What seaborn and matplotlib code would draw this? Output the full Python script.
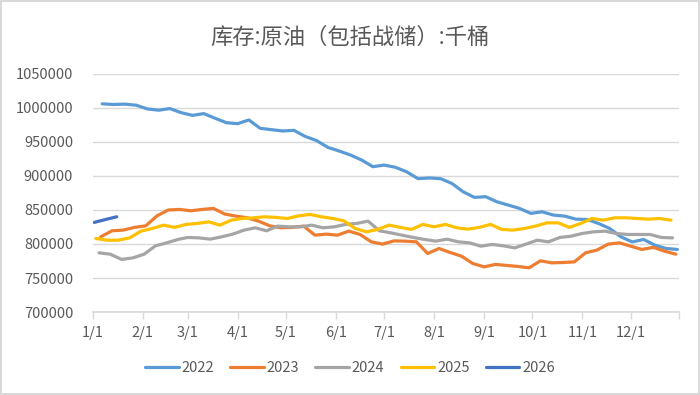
import pandas as pd
import matplotlib
matplotlib.use("Agg")
import matplotlib.pyplot as plt
import seaborn as sns

# 每周数据（千桶），按年份分开
v2022 = [1006000, 1005000, 1005500, 1004000, 998500, 996600, 999000, 993000, 989000, 991600,
         984800, 978300, 976800, 982300, 970000, 968000, 966100, 967000, 958000, 952000,
         942000, 936700, 930800, 923400, 913600, 916000, 912700, 906000, 896000, 897000,
         896000, 889000, 876800, 868500, 869500, 862000, 857200, 852300, 845000, 847300,
         842500, 841000, 836500, 836000, 830200, 822800, 810500, 803000, 806700, 798300,
         793400, 792000]
v2023 = [810500, 819400, 820400, 824400, 826700, 841400, 850000, 850800, 848800, 850800,
         852300, 844000, 841000, 838500, 833600, 826700, 823800, 824400, 826300, 813000,
         814500, 813000, 818900, 814000, 803200, 799800, 804600, 804200, 803200, 786000,
         793400, 787500, 782100, 771300, 766400, 770000, 768500, 767000, 765000, 775300,
         772300, 772800, 773700, 787000, 791000, 799800, 801700, 796800, 792000, 795000,
         789500, 785000]
v2024 = [787000, 785000, 777300, 779600, 785000, 797300, 801700, 806700, 809600, 809000,
         807100, 810500, 814500, 820400, 823800, 819400, 826300, 825200, 825200, 827700,
         823800, 825200, 828800, 830200, 833600, 819400, 816400, 813000, 809600, 806700,
         804200, 807100, 803200, 801700, 796800, 799300, 797300, 794300, 799800, 805600,
         803200, 809600, 811500, 815500, 817900, 818900, 815500, 814000, 814000, 814000,
         809600, 809000]
v2025 = [808100, 805600, 805600, 809000, 818900, 822800, 827700, 824400, 828800, 830200,
         832600, 827700, 835000, 837500, 838500, 840000, 839000, 837500, 841400, 843500,
         840000, 837500, 834000, 822800, 817900, 821400, 827700, 824400, 821400, 828800,
         825200, 828800, 823800, 821800, 824400, 828800, 821400, 820400, 822800, 826300,
         831100, 831100, 824400, 830200, 837500, 835000, 838500, 838500, 837500, 836500,
         837500, 835000]
v2026 = [831700, 836000, 840000]

years = ["2022", "2023", "2024", "2025", "2026"]
first_dates = ["2022-01-07", "2023-01-06", "2024-01-05", "2025-01-03", "2026-01-02"]
series = [v2022, v2023, v2024, v2025, v2026]
colors = ["#5B9BD5", "#ED7D31", "#A5A5A5", "#FFC000", "#4472C4"]
month_labels = ["1/1", "2/1", "3/1", "4/1", "5/1", "6/1", "7/1", "8/1", "9/1", "10/1", "11/1", "12/1"]

# 拼成长表，日期统一映射到同一年以便叠加
rows = []
for yr, d0, vals in zip(years, first_dates, series):
    dates = pd.date_range(d0, periods=len(vals), freq="7D")
    for d, v in zip(dates, vals):
        rows.append({"日期": pd.Timestamp(2001, d.month, d.day), "库存": v, "年份": yr})
df = pd.DataFrame(rows)

sns.set_theme(style="white")
plt.rcParams["font.family"] = ["Noto Sans CJK SC", "DejaVu Sans"]

grey = "#595959"
fig = plt.figure(figsize=(7, 3.95), dpi=100)
ax = fig.add_axes([0.1323, 0.21, 0.8377, 0.603])

sns.lineplot(data=df, x="日期", y="库存", hue="年份", palette=dict(zip(years, colors)),
             linewidth=2.3, ax=ax, legend=True)

ax.set_ylim(700000, 1050000)
ax.set_yticks(range(700000, 1050001, 50000))
ax.set_yticklabels([str(v) for v in range(700000, 1050001, 50000)])
ax.set_xlim(pd.Timestamp(2001, 1, 1), pd.Timestamp(2001, 12, 31))
month_ticks = [pd.Timestamp(2001, m, 1) for m in range(1, 13)]
ax.set_xticks(month_ticks + [pd.Timestamp(2001, 12, 31)])
ax.set_xticklabels(month_labels + [""])

ax.grid(axis="y", color="#D9D9D9", linewidth=1)
ax.grid(axis="x", visible=False)
for s in ["top", "right", "left"]:
    ax.spines[s].set_visible(False)
ax.spines["bottom"].set_color("#D9D9D9")
ax.tick_params(axis="y", length=0, pad=14, labelsize=10.5, labelcolor=grey)
ax.tick_params(axis="x", length=5, width=1, color="#D9D9D9", pad=5, labelsize=10.5,
               labelcolor=grey, bottom=True)
ax.set_xlabel("")
ax.set_ylabel("")

handles, labels = ax.get_legend_handles_labels()
ax.get_legend().remove()
fig.legend(handles, labels, loc="center", bbox_to_anchor=(0.5, 0.068), ncol=5, frameon=False,
           fontsize=10.5, handlelength=2.3, handletextpad=0.2, columnspacing=1.1,
           labelcolor=grey)

fig.text(0.5, 0.905, "库存:原油（包括战储）:千桶", ha="center", va="center",
         fontsize=16, color=grey)

fig.patch.set_edgecolor("#D9D9D9")
fig.patch.set_linewidth(1.5)
fig.savefig("out.png", dpi=100, edgecolor=fig.get_edgecolor())
